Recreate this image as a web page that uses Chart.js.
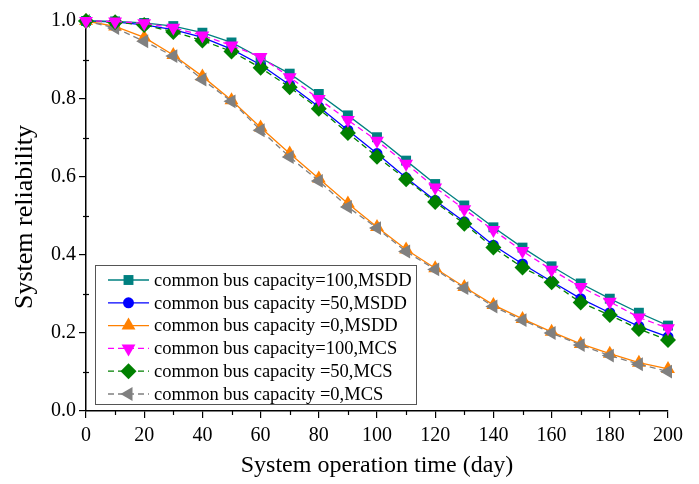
<!DOCTYPE html>
<html>
<head>
<meta charset="utf-8">
<script src="https://cdn.jsdelivr.net/npm/chart.js@4.4.0/dist/chart.umd.min.js"></script>
<style>
  html, body { margin: 0; padding: 0; background: #fff; }
  #wrap { width: 699px; height: 484px; }
</style>
</head>
<body>
<div id="wrap"><canvas id="c" width="699" height="484"></canvas></div>
<script>
const days = [0,10,20,30,40,50,60,70,80,90,100,110,120,130,140,150,160,170,180,190,200];
const cap100MSDD = [1.0,0.999,0.995,0.987,0.970,0.945,0.905,0.865,0.813,0.758,0.702,0.642,0.582,0.527,0.471,0.419,0.371,0.327,0.288,0.252,0.219];
const cap50MSDD  = [1.0,0.998,0.990,0.978,0.958,0.928,0.888,0.836,0.780,0.720,0.660,0.598,0.540,0.485,0.425,0.377,0.332,0.288,0.252,0.217,0.190];
const cap0MSDD   = [1.0,0.986,0.958,0.913,0.858,0.797,0.727,0.660,0.596,0.532,0.472,0.414,0.366,0.318,0.272,0.236,0.203,0.172,0.147,0.124,0.108];
const cap100MCS  = [1.0,0.999,0.994,0.983,0.963,0.937,0.908,0.856,0.800,0.746,0.693,0.634,0.573,0.517,0.464,0.410,0.362,0.318,0.280,0.240,0.212];
const cap50MCS   = [1.0,0.997,0.990,0.972,0.950,0.922,0.880,0.830,0.775,0.713,0.652,0.594,0.536,0.480,0.419,0.368,0.330,0.278,0.246,0.210,0.182];
const cap0MCS    = [1.0,0.982,0.948,0.910,0.850,0.794,0.720,0.651,0.590,0.523,0.469,0.409,0.363,0.315,0.268,0.233,0.200,0.169,0.142,0.120,0.101];
const seriesLabels = [
  'common bus capacity=100,MSDD',
  'common bus capacity =50,MSDD',
  'common bus capacity =0,MSDD',
  'common bus capacity=100,MCS',
  'common bus capacity =50,MCS',
  'common bus capacity =0,MCS'
];
const xTickLabels = ['0','20','40','60','80','100','120','140','160','180','200'];
const yTickLabels = ['0.0','0.2','0.4','0.6','0.8','1.0'];
const xTitle = 'System operation time (day)';
const yTitle = 'System reliability';

const FONT = '"Liberation Serif", "Times New Roman", serif';
const toXY = arr => arr.map((v, i) => ({x: days[i], y: v}));

const styles = [
  {color: '#008080', pointStyle: 'rect', radius: 7, rot: 0, dash: [], order: 1},
  {color: '#0000FF', pointStyle: 'circle', radius: 5.5, rot: 0, dash: [], order: 1},
  {color: '#FF8000', pointStyle: 'triangle', radius: 8, rot: 0, dash: [], order: 1},
  {color: '#FF00FF', pointStyle: 'triangle', radius: 8, rot: 180, dash: [6,4], order: 0},
  {color: '#008000', pointStyle: 'rectRot', radius: 8, rot: 0, dash: [6,4], order: 0},
  {color: '#808080', pointStyle: 'triangle', radius: 8, rot: -90, dash: [6,4], order: 0}
];
const values = [cap100MSDD, cap50MSDD, cap0MSDD, cap100MCS, cap50MCS, cap0MCS];

const datasets = values.map((v, i) => ({
  label: seriesLabels[i],
  data: toXY(v),
  borderColor: styles[i].color,
  backgroundColor: styles[i].color,
  borderWidth: 1.3,
  borderDash: styles[i].dash,
  pointStyle: styles[i].pointStyle,
  pointRadius: styles[i].radius,
  pointRotation: styles[i].rot,
  pointBorderWidth: 0,
  pointBackgroundColor: styles[i].color,
  pointBorderColor: styles[i].color,
  tension: 0,
  order: styles[i].order,
  clip: false
}));

const extras = {
  id: 'extras',
  afterDraw(chart) {
    const ctx = chart.ctx;
    const xs = chart.scales.x, ys = chart.scales.y;
    const area = chart.chartArea;
    ctx.save();
    // minor ticks
    ctx.strokeStyle = '#000';
    ctx.lineWidth = 1.2;
    for (let d = 10; d < 200; d += 20) {
      const px = Math.round(xs.getPixelForValue(d)) + 0.5;
      ctx.beginPath(); ctx.moveTo(px, area.bottom); ctx.lineTo(px, area.bottom + 4); ctx.stroke();
    }
    for (let k = 1; k < 10; k += 2) {
      const py = Math.round(ys.getPixelForValue(k / 10)) + 0.5;
      ctx.beginPath(); ctx.moveTo(area.left - 3, py); ctx.lineTo(area.left + 3, py); ctx.stroke();
    }
    // titles
    ctx.fillStyle = '#000';
    ctx.font = '24px ' + FONT;
    ctx.textAlign = 'center';
    ctx.textBaseline = 'middle';
    ctx.fillText(xTitle, (area.left + area.right) / 2, 466);
    ctx.save();
    ctx.translate(25, 217);
    ctx.rotate(-Math.PI / 2);
    ctx.font = '26px ' + FONT;
    ctx.fillText(yTitle, 0, 0);
    ctx.restore();
    // legend
    const bx = 95.5, by = 265.5, bw = 321, bh = 139;
    ctx.fillStyle = '#fff';
    ctx.fillRect(bx, by, bw, bh);
    ctx.strokeStyle = '#555';
    ctx.lineWidth = 1;
    ctx.strokeRect(bx, by, bw, bh);
    const rowY0 = 280, rowStep = 22.8;
    chart.data.datasets.forEach((ds, i) => {
      const y = rowY0 + i * rowStep;
      ctx.save();
      ctx.strokeStyle = ds.borderColor;
      ctx.lineWidth = 1.3;
      ctx.setLineDash(ds.borderDash);
      ctx.beginPath(); ctx.moveTo(108, y); ctx.lineTo(149, y); ctx.stroke();
      ctx.setLineDash([]);
      ctx.fillStyle = ds.pointBackgroundColor;
      Chart.helpers.drawPoint(ctx, {
        pointStyle: ds.pointStyle, rotation: ds.pointRotation,
        radius: ds.pointRadius, borderWidth: 0
      }, 128.5, y);
      ctx.restore();
      ctx.fillStyle = '#000';
      ctx.font = '18.5px ' + FONT;
      ctx.textAlign = 'left';
      ctx.textBaseline = 'middle';
      ctx.fillText(ds.label, 154, y + 1);
    });
    ctx.restore();
  }
};

new Chart(document.getElementById('c'), {
  type: 'line',
  data: { datasets },
  options: {
    responsive: false,
    animation: false,
    devicePixelRatio: 1,
    layout: { padding: { left: 0, top: 21, right: 31, bottom: 0 } },
    plugins: { legend: { display: false }, tooltip: { enabled: false }, title: { display: false } },
    scales: {
      x: {
        type: 'linear', min: 0, max: 200,
        afterFit(s) { s.height = 73; },
        ticks: {
          stepSize: 20, autoSkip: false, maxRotation: 0, padding: 6,
          color: '#000', font: { family: FONT, size: 20 },
          callback: (v) => { const i = v / 20; return Number.isInteger(i) ? xTickLabels[i] : ''; }
        },
        grid: { display: true, drawOnChartArea: false, drawTicks: true, tickLength: 7, color: '#000', lineWidth: 1.2 },
        border: { display: true, color: '#000', width: 1.5 }
      },
      y: {
        type: 'linear', min: 0, max: 1.0,
        afterFit(s) { s.width = 86; },
        ticks: {
          stepSize: 0.2, autoSkip: false, padding: 3,
          color: '#000', font: { family: FONT, size: 20 },
          callback: (v) => { const i = Math.round(v * 5); return yTickLabels[i]; }
        },
        grid: { display: true, drawOnChartArea: false, drawTicks: true, tickLength: 7, color: '#000', lineWidth: 1.2 },
        border: { display: true, color: '#000', width: 1.5 }
      }
    }
  },
  plugins: [extras]
});
</script>
</body>
</html>
